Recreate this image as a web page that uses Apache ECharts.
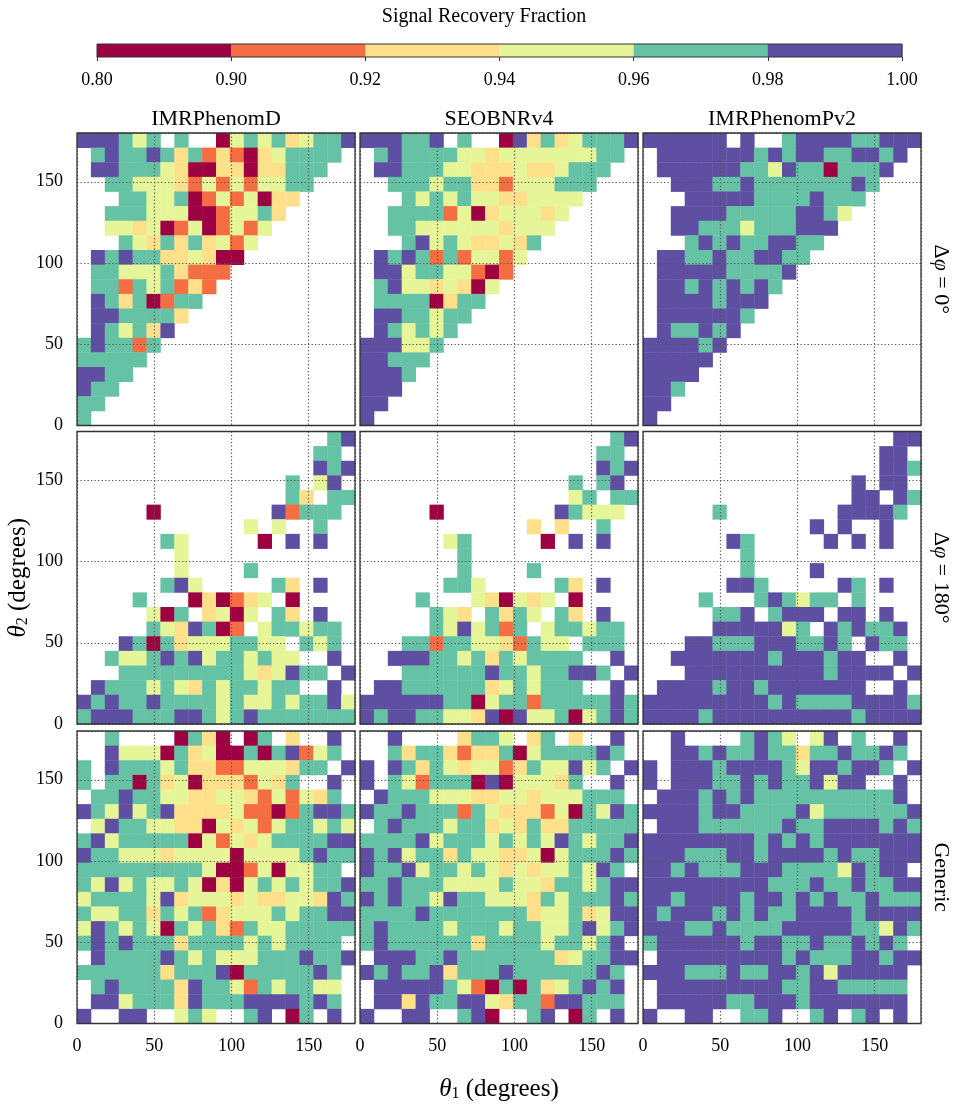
<!DOCTYPE html>
<html>
<head>
<meta charset="utf-8">
<script src="https://cdn.jsdelivr.net/npm/echarts@6/dist/echarts.min.js"></script>
<style>
  html, body { margin: 0; padding: 0; background: #fff; }
  #chart { width: 969px; height: 1113px; }
</style>
</head>
<body>
<div id="chart"></div>
<script>
// colour bins of the signal recovery fraction
const binEdges = [0.80, 0.90, 0.92, 0.94, 0.96, 0.98, 1.00];
const binLabels = ['0.80', '0.90', '0.92', '0.94', '0.96', '0.98', '1.00'];
const binColors = ['#9e0142', '#f46d43', '#fee08b', '#e6f598', '#66c2a5', '#5e4fa2'];
// digit code in the grids below -> a value inside that bin
const codeValues = [0.85, 0.91, 0.93, 0.95, 0.97, 0.99];

const models = ['IMRPhenomD', 'SEOBNRv4', 'IMRPhenomPv2'];
const thetaTicks = [0, 50, 100, 150];
const binWidth = 9; // 20 bins over 0..180 degrees

// each grid: rows from top (theta2 171-180) to bottom (theta2 0-9),
// columns theta1 0-9 ... 171-180, '.' = empty bin
const phenomD_dphi0 = [
  '555434.4..0343423445', '.454454241210234444.', '.55444320022022444..', '..443332131313344...',
  '...4433401313022....', '..4443330013342.....', '..332301301313......', '...4324242313.......',
  '.54544223200........', '.4433342111.........', '.441434121..........', '.54240144...........',
  '.5544442............', '.543425.............', '454414..............', '44444...............',
  '5544................', '544.................', '44..................', '4...................'
];
const seob_dphi0 = [
  '555445.4..0524234445', '.454444332333333344.', '.55444332223223444..', '..444344221333444...',
  '...4343433223333....', '..4444130233323.....', '..443333332333......', '...4534322324.......',
  '.54541413313........', '.5534433101.........', '.453323203..........', '.44440244...........',
  '.5544344............', '.543434.............', '555334..............', '55444...............',
  '5554................', '555.................', '55..................', '5...................'
];
const pv2_dphi0 = [
  '555555.5..4555544555', '.555555545455445545.', '.55555544354404445..', '..555445444444454...',
  '...5555544445444....', '..5555444445543.....', '..554443444555......', '...4545445544.......',
  '.55445445544........', '.5555544445.........', '.554545454..........', '.55554555...........',
  '.5555554............', '.544545.............', '555545..............', '55555...............',
  '5555................', '554.................', '55..................', '5...................'
];
const phenomD_dphi180 = [
  '..................45', '.................44.', '.................545', '...............4.35.',
  '...............42.44', '.....0........51444.', '............3.3..4..', '......43.....0.5.5..',
  '.......3............', '.......3....4.......', '......453.....42.5..', '....4...020123.0....',
  '.....304.2303.42.5..', '.....4325401.344344.', '...540423334433.434.', '..43345453443433..5.',
  '...444444444323544.5', '.544434324344344..5.', '54544544443433434453', '45554445543454444444'
];
const seob_dphi180 = [
  '..................45', '.................44.', '.................545', '...............4.45.',
  '...............34.44', '.....0........54333.', '............2.2..4..', '......34.....0.5.5..',
  '.......4............', '.......4....4.......', '......443.....42.5..', '....4...320323.0....',
  '.....432.4243.42.5..', '.....4353414.344344.', '...441443321433.444.', '..55544342434444..5.',
  '...444444544344554.5', '.554444442343444..5.', '55555544034414444454', '54554433250533403454'
];
const pv2_dphi180 = [
  '..................55', '.................55.', '.................554', '...............5.55.',
  '...............55.54', '.....4........55554.', '............5.5..5..', '......54.....5.5.5..',
  '.......4............', '.......4....5.......', '......554.....54.5..', '....4...454344.4....',
  '.....445.4555.55.5..', '.....5555534.545445.', '...554445554454.544.', '..55555554555455..5.',
  '...555555555545555.5', '.555545545555555..5.', '55555555545444455554', '55554555555555545555'
];
const phenomD_generic = [
  '..4....0420.04.2..5.', '..53330423004045134.', '4.5444342211333244.5', '4.44042302221324..5.',
  '.445443322332131324.', '54353452222311014554', '.3544332203231344343', '45344444031323444455',
  '54433323333033334544', '4444444443001303344.', '43534334302034343445', '34444352333232233254',
  '43344243412333434455', '35434304342143344444', '4545444244443434444.', '.5444454343334445445',
  '4444442444504444454.', '.454444254431434433.', '.553444254445555454.', '5..55..343..45.04.5.'
];
const seob_generic = [
  '..5....2443.24.2..5.', '..42442122403444454.', '5.5424323312433534.5', '5.43144405033324..5.',
  '.544433322332333444.', '54454441432221304354', '.4544434423242244444', '44445344434343543445',
  '54534424332230344454', '5445344343232334354.', '44544433334332443455', '54544354433324344454',
  '44445444444423342355', '45444434443443345345', '4544444424444344345.', '.5554454444444234455',
  '5454452444544444454.', '.555554310404234545.', '.552544553244155444.', '5..55..450..45.04.5.'
];
const pv2_generic = [
  '..5....4543.35.4..5.', '..55454454424454454.', '5.5554555543554554.5', '5.55544545445355..5.',
  '.555454544444444445.', '55554554444534444445', '.5554444445445555454', '55555555454545555555',
  '55544455455554544555', '5545444555444435455.', '55555555544454454455', '55455554554545445444',
  '54555454544555545555', '55544544445555544354', '4555555455445445454.', '.5555555554544455455',
  '5554445445545355555.', '.555555555445544444.', '.555554455545555555.', '5..55..445..45.45.5.'
];

const panels = [
  [phenomD_dphi0, seob_dphi0, pv2_dphi0],
  [phenomD_dphi180, seob_dphi180, pv2_dphi180],
  [phenomD_generic, seob_generic, pv2_generic]
];
const rowLabels = ['{n|Δ}{i|φ}{n| = 0°}', '{n|Δ}{i|φ}{n| = 180°}', '{n|Generic}'];

const FONT = '"Liberation Serif", "DejaVu Serif", serif';

function toCells(rows) {
  const data = [];
  const n = rows.length;
  rows.forEach((row, r) => {
    const s = row.padEnd(n, '.');
    for (let c = 0; c < n; c++) {
      const ch = s[c];
      if (ch === '.') continue;
      data.push([c * binWidth, (n - 1 - r) * binWidth, codeValues[+ch]]);
    }
  });
  return data;
}

function renderCell(params, api) {
  const x = api.value(0);
  const y = api.value(1);
  const tl = api.coord([x, y + binWidth]);
  const br = api.coord([x + binWidth, y]);
  return {
    type: 'rect',
    shape: { x: tl[0], y: tl[1], width: br[0] - tl[0] + 0.4, height: br[1] - tl[1] + 0.4 },
    style: { fill: api.visual('color') }
  };
}

const colLeft = [77, 360, 643];
const rowTop = [133, 431.5, 731];
const panelW = 278;
const panelH = 292.5;

const grids = [], xAxes = [], yAxes = [], series = [];
const subRich = {
  t: { fontFamily: FONT, fontSize: 25, fontStyle: 'italic', color: '#000', verticalAlign: 'bottom', lineHeight: 28 },
  s: { fontFamily: FONT, fontSize: 16, color: '#000', verticalAlign: 'bottom', lineHeight: 28, padding: [7, 0, 0, 0] },
  n: { fontFamily: FONT, fontSize: 25, color: '#000', verticalAlign: 'bottom', lineHeight: 28 }
};
const gridLine = { show: true, lineStyle: { type: [1.3, 2.2], color: '#555', width: 1.2 } };

for (let r = 0; r < 3; r++) {
  for (let c = 0; c < 3; c++) {
    const idx = r * 3 + c;
    grids.push({
      left: colLeft[c], top: rowTop[r], width: panelW, height: panelH,
      show: true, borderColor: '#333', borderWidth: 1.3, backgroundColor: 'transparent', z: 10
    });
    xAxes.push({
      gridIndex: idx, type: 'value', min: 0, max: 180, interval: 50, z: 5,
      axisLine: { show: false }, axisTick: { show: false },
      axisLabel: {
        show: r === 2, showMaxLabel: false, margin: 14,
        fontFamily: FONT, fontSize: 18, color: '#000'
      },
      splitLine: gridLine,
      name: idx === 7 ? '{t|θ}{s|1}{n| (degrees)}' : '',
      nameLocation: 'middle', nameGap: 50,
      nameTextStyle: { rich: subRich }
    });
    yAxes.push({
      gridIndex: idx, type: 'value', min: 0, max: 180, interval: 50, z: 5,
      axisLine: { show: false }, axisTick: { show: false },
      axisLabel: {
        show: c === 0, showMaxLabel: false, margin: 14,
        fontFamily: FONT, fontSize: 18, color: '#000'
      },
      splitLine: gridLine,
      name: idx === 3 ? '{t|θ}{s|2}{n| (degrees)}' : '',
      nameLocation: 'middle', nameGap: 46, nameRotate: 90,
      nameTextStyle: { rich: subRich }
    });
    series.push({
      type: 'custom', coordinateSystem: 'cartesian2d',
      xAxisIndex: idx, yAxisIndex: idx,
      renderItem: renderCell,
      encode: { x: 0, y: 1 },
      data: toCells(panels[r][c])
    });
  }
}

// colour bar
grids.push({ left: 97, top: 44, width: 805, height: 13, show: true, borderColor: '#333', borderWidth: 1, backgroundColor: 'transparent', z: 10 });
xAxes.push({
  gridIndex: 9, type: 'value', min: 0, max: binColors.length, interval: 1,
  axisLine: { show: false },
  axisTick: { show: true, length: 4, lineStyle: { color: '#333' } },
  axisLabel: { formatter: v => binLabels[v], margin: 14, fontFamily: FONT, fontSize: 18, color: '#000' },
  splitLine: { show: false }
});
yAxes.push({ gridIndex: 9, type: 'value', min: 0, max: 1, show: false });
series.push({
  type: 'custom', coordinateSystem: 'cartesian2d', xAxisIndex: 9, yAxisIndex: 9,
  encode: { x: 0, y: 1 },
  renderItem: (params, api) => {
    const i = api.value(0);
    const tl = api.coord([i, 1]);
    const br = api.coord([i + 1, 0]);
    return { type: 'rect', shape: { x: tl[0], y: tl[1], width: br[0] - tl[0] + 0.4, height: br[1] - tl[1] }, style: { fill: api.visual('color') } };
  },
  data: codeValues.map((v, i) => [i, 0, v])
});

const pieces = binColors.map((color, i) => (
  i === binColors.length - 1
    ? { gte: binEdges[i], lte: binEdges[i + 1], color }
    : { gte: binEdges[i], lt: binEdges[i + 1], color }
));

const graphics = [
  { type: 'text', x: 484, y: 17, style: { text: 'Signal Recovery Fraction', font: '20px ' + FONT, fill: '#000', align: 'center', verticalAlign: 'middle', textAlign: 'center', textVerticalAlign: 'middle' } }
];
models.forEach((m, c) => {
  graphics.push({ type: 'text', x: colLeft[c] + panelW / 2, y: 119, style: { text: m, font: '22px ' + FONT, fill: '#000', align: 'center', verticalAlign: 'middle', textAlign: 'center', textVerticalAlign: 'middle' } });
});
rowLabels.forEach((lab, r) => {
  graphics.push({
    type: 'text', x: 941, y: rowTop[r] + panelH / 2, rotation: -Math.PI / 2,
    style: {
      text: lab, fill: '#000', align: 'center', verticalAlign: 'middle', textAlign: 'center', textVerticalAlign: 'middle',
      rich: {
        n: { fontFamily: FONT, fontSize: 22, color: '#000' },
        i: { fontFamily: FONT, fontSize: 22, fontStyle: 'italic', color: '#000' }
      }
    }
  });
});

const chart = echarts.init(document.getElementById('chart'), null, { renderer: 'canvas' });
chart.setOption({
  animation: false,
  backgroundColor: '#fff',
  grid: grids,
  xAxis: xAxes,
  yAxis: yAxes,
  visualMap: {
    type: 'piecewise', show: false, dimension: 2,
    seriesIndex: series.map((s, i) => i),
    pieces: pieces
  },
  graphic: graphics,
  series: series
});
</script>
</body>
</html>
